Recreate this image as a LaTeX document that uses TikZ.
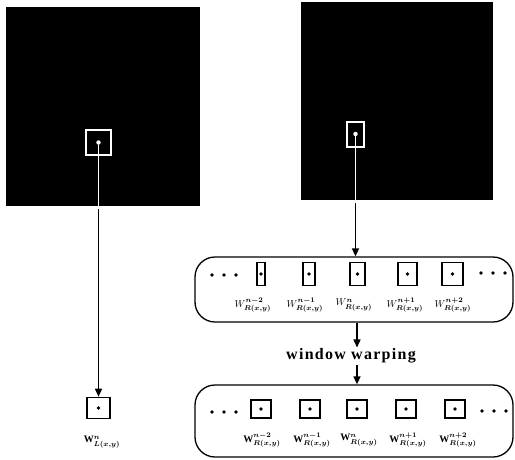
\documentclass[tikz,border=0pt]{standalone}
\usepackage{fontspec}
\setmainfont{Liberation Serif}
\newfontfamily\warpfont[LetterSpace=8]{Liberation Serif}
\usepackage{amsmath}
\usepackage{tikz}
\usetikzlibrary{arrows.meta,positioning,calc}

\begin{document}
\begin{tikzpicture}[
    x=1pt, y=-1pt,
    >={Triangle[length=8pt,width=7pt]},
    image/.style={rectangle, fill=black, draw=none, inner sep=0pt},
    win/.style={rectangle, draw, line width=1.6pt, inner sep=0pt},
    winwhite/.style={rectangle, draw=white, line width=1.3pt, inner sep=0pt},
    spot/.style={circle, fill, inner sep=0pt, minimum size=3.6pt},
    strip/.style={rectangle, draw, line width=1.3pt, rounded corners=20pt,
                  inner sep=0pt, minimum width=318pt},
    wlabel/.style={font=\fontsize{10}{10}\selectfont, inner sep=0pt},
    warplabel/.style={font=\warpfont\bfseries\fontsize{16}{16}\selectfont, inner sep=1pt},
    wire/.style={->, line width=1.5pt},
    whitewire/.style={draw=white, line width=1.3pt}
]
\useasboundingbox (0,0) rectangle (515,459);

% ---------------------------------------------------------------- Left image
\node[image, minimum width=194pt, minimum height=199pt] (leftimg) at (103,106.5) {};
\node[winwhite, minimum width=25pt, minimum height=25pt] (leftwin) at (98.5,142.5) {};
\node[spot, white, minimum size=4.5pt] (leftdot) at (leftwin.center) {};
\node[win, minimum width=23pt, minimum height=21pt] (leftout) at (98.5,408) {};
\node[spot] (leftoutdot) at (leftout.center) {};
\node[wlabel] (leftlbl) at (102,442) {$\mathbf{W}^{\boldsymbol{n}}_{\boldsymbol{L(x,y)}}$};

% ---------------------------------------------------------------- Right image
\node[image, minimum width=192pt, minimum height=198pt] (rightimg) at (397,101) {};
\node[winwhite, minimum width=17pt, minimum height=25pt] (rightwin) at (355.5,134.5) {};
\node[spot, white, minimum size=4.5pt] (rightdot) at (355.5,134) {};

% ---------------------------------------------------------------- Strips
\node[strip, minimum height=65pt] (strip1) at (354,289.5) {};
\node[strip, minimum height=72pt] (strip2) at (354,421) {};

% Strip 1: windows before warping
\foreach \name/\x/\w/\lx/\s in {a/261/8/253/n-2, b/309/12/305/n-1, c/357.5/15/354/n,
                               d/407.5/19/405/n+1, e/452.5/21/453/n+2}{
    \node[win, minimum width=\w pt, minimum height=23pt] (s1\name) at (\x,274) {};
    \node[spot] at (s1\name.center) {};
    \node[wlabel] (s1lbl\name) at (\lx,305) {$W^{\boldsymbol{\s}}_{\boldsymbol{R(x,y)}}$};
}
\foreach \x in {212,224,236}{\node[spot] at (\x,275) {};}
\foreach \x in {481,493,505}{\node[spot] at (\x,273) {};}

% Strip 2: windows after warping
\foreach \name/\x/\lx/\s in {a/261/262/n-2, b/310/312/n-1, c/357/359/n,
                            d/406/408/n+1, e/455/458/n+2}{
    \node[win, minimum width=20pt, minimum height=18pt] (s2\name) at (\x,409) {};
    \node[spot] at (s2\name.center) {};
    \node[wlabel] (s2lbl\name) at (\lx,440) {$\mathbf{W}^{\boldsymbol{\s}}_{\boldsymbol{R(x,y)}}$};
}
\foreach \x in {212,224,236}{\node[spot] at (\x,412) {};}
\foreach \x in {482,494,506}{\node[spot] at (\x,411) {};}

% ---------------------------------------------------------------- Warping step
\node[warplabel] (warp) at (351,356) {window warping};
\coordinate (warpaxis) at (357,0);

% ---------------------------------------------------------------- Connections
\draw[whitewire] (leftdot) -- (leftdot |- leftimg.south);
\draw[wire] ([yshift=-3pt]leftdot |- leftimg.south) -- (leftout.north);

\draw[whitewire] (rightdot) -- (rightdot |- rightimg.south);
\draw[wire] ([yshift=-3pt]rightdot |- rightimg.south) -- (rightdot |- strip1.north);

\draw[wire] (strip1.south -| warpaxis) -- (warp.north -| warpaxis);
\draw[wire] (warp.south -| warpaxis) -- (strip2.north -| warpaxis);

\end{tikzpicture}
\end{document}
